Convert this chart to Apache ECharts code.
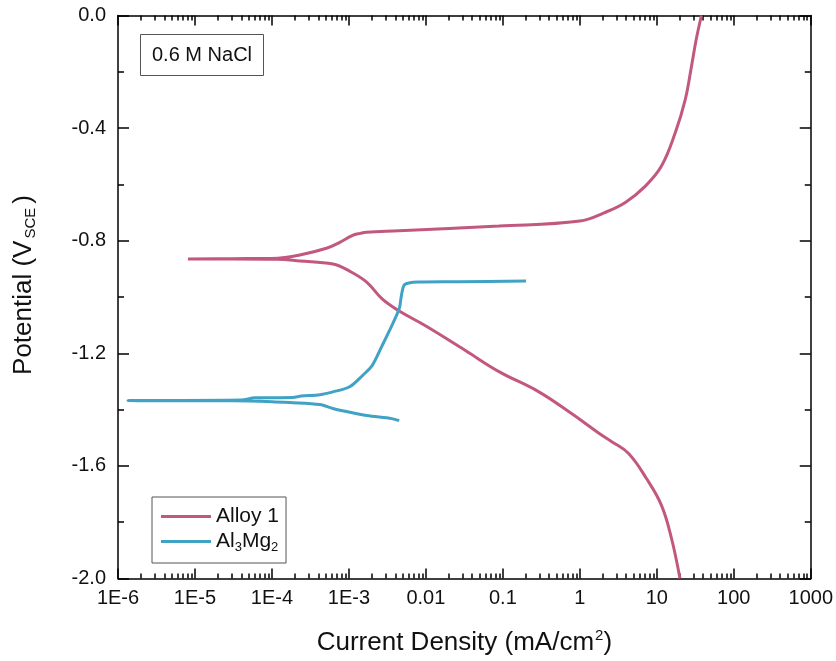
<!DOCTYPE html>
<html>
<head>
<meta charset="utf-8">
<script src="https://cdn.jsdelivr.net/npm/echarts@6/dist/echarts.min.js"></script>
<style>
  html, body { margin: 0; padding: 0; background: #fff; }
  #chart { width: 836px; height: 661px; }
</style>
</head>
<body>
<div id="chart"></div>
<script>
// Alloy 1: cathodic branch (from -2.0 V up to Ecorr), then anodic branch
const alloyCurrent = [20, 15.5, 11.5, 7.3, 4.3, 2.57, 1.75, 0.78, 0.29, 0.089, 0.033, 0.01, 0.0045, 0.0027, 0.0017,
  0.00102, 0.00062, 0.00023, 0.000115, 0.00003, 0.0000081,
  0.00003, 0.00012, 0.00023, 0.00051, 0.00076, 0.0011, 0.0014, 0.0017, 0.0045, 0.089, 1, 2.1, 3.9, 7.1, 11.5, 17.4, 23.4, 28.2, 32.4, 38];
const alloyPotential = [-2.0, -1.857, -1.740, -1.644, -1.556, -1.513, -1.483, -1.414, -1.336, -1.265, -1.191, -1.103, -1.05, -1.007, -0.947,
  -0.908, -0.883, -0.872, -0.866, -0.865, -0.865,
  -0.864, -0.862, -0.851, -0.827, -0.806, -0.782, -0.774, -0.770, -0.765, -0.748, -0.730, -0.700, -0.664, -0.606, -0.535, -0.416, -0.299, -0.181, -0.087, 0.0];

// Al3Mg2: cathodic branch, then anodic branch
const al3mg2Current = [0.0045, 0.0036, 0.0017, 0.00093, 0.00062, 0.00042, 0.00017, 0.0001, 0.00003, 0.00000135,
  0.00004, 0.00006, 0.000186, 0.00024, 0.00042, 0.00062, 0.00102, 0.0015, 0.002, 0.0027, 0.0033, 0.0045, 0.0048, 0.0052, 0.006, 0.008, 0.027, 0.2];
const al3mg2Potential = [-1.439, -1.432, -1.421, -1.407, -1.396, -1.382, -1.375, -1.372, -1.369, -1.368,
  -1.366, -1.358, -1.357, -1.352, -1.347, -1.337, -1.319, -1.279, -1.244, -1.173, -1.124, -1.042, -0.996, -0.958, -0.950, -0.947, -0.946, -0.943];

const xTickLabels = ['1E-6', '1E-5', '1E-4', '1E-3', '0.01', '0.1', '1', '10', '100', '1000'];

const FONT = 'Liberation Sans, Arial, sans-serif';

// minor ticks at 2..9 x 10^n, in log10 units for the overlay axis
const minorTicks = [];
for (let n = -6; n < 3; n++) {
  for (let k = 2; k <= 9; k++) minorTicks.push(n + Math.log10(k));
}

const zip = (xs, ys) => xs.map((x, i) => [x, ys[i]]);

const myChart = echarts.init(document.getElementById('chart'));

const tickLine = { color: '#000', width: 1.5 };

const option = {
  animation: false,
  backgroundColor: '#fff',
  textStyle: { fontFamily: FONT },
  title: {
    text: '0.6 M NaCl',
    left: 140,
    top: 34,
    padding: [11, 12, 11, 12],
    borderColor: '#555',
    borderWidth: 1,
    textStyle: { fontSize: 20, fontWeight: 'normal', color: '#111', fontFamily: FONT }
  },
  legend: {
    orient: 'vertical',
    left: 152,
    top: 497,
    padding: [9, 7, 9, 9],
    itemGap: 4,
    itemWidth: 50,
    itemHeight: 3,
    icon: 'rect',
    borderColor: '#555',
    borderWidth: 1,
    data: ['Alloy 1', 'Al3Mg2'],
    formatter: function (name) {
      return name === 'Al3Mg2' ? 'Al{sub|3}Mg{sub|2}' : name;
    },
    textStyle: {
      fontSize: 21,
      color: '#111',
      fontFamily: FONT,
      rich: {
        sub: { fontSize: 13, padding: [12, 0, 0, 0], fontFamily: FONT, color: '#111' }
      }
    }
  },
  grid: { left: 118, right: 23, top: 15.5, bottom: 81 },
  xAxis: [
    {
      type: 'log',
      logBase: 10,
      min: 1e-6,
      max: 1000,
      splitNumber: 9,
      position: 'bottom',
      name: 'Current Density (mA/cm{sup|2})',
      nameLocation: 'middle',
      nameGap: 50,
      nameTextStyle: {
        fontSize: 26,
        color: '#111',
        fontFamily: FONT,
        rich: { sup: { fontSize: 15, padding: [0, 0, 14, 1], fontFamily: FONT, color: '#111' } }
      },
      axisLine: { show: true, onZero: false, lineStyle: tickLine },
      axisTick: { show: true, inside: true, length: 10, lineStyle: tickLine },
      axisLabel: {
        fontSize: 20,
        color: '#111',
        margin: 10,
        fontFamily: FONT,
        formatter: function (v) {
          return xTickLabels[Math.round(Math.log10(v)) + 6];
        }
      },
      splitLine: { show: false }
    },
    {
      type: 'value',
      min: -6,
      max: 3,
      position: 'bottom',
      axisLine: { show: false, onZero: false },
      axisTick: { show: true, inside: true, length: 5, lineStyle: tickLine, customValues: minorTicks },
      axisLabel: { show: false },
      splitLine: { show: false }
    },
    {
      type: 'log',
      logBase: 10,
      min: 1e-6,
      max: 1000,
      splitNumber: 9,
      position: 'top',
      axisLine: { show: true, onZero: false, lineStyle: tickLine },
      axisTick: { show: true, inside: true, length: 10, lineStyle: tickLine },
      axisLabel: { show: false },
      splitLine: { show: false }
    },
    {
      type: 'value',
      min: -6,
      max: 3,
      position: 'top',
      axisLine: { show: false, onZero: false },
      axisTick: { show: true, inside: true, length: 5, lineStyle: tickLine, customValues: minorTicks },
      axisLabel: { show: false },
      splitLine: { show: false }
    }
  ],
  yAxis: [
    {
      type: 'value',
      min: -2,
      max: 0,
      interval: 0.4,
      position: 'left',
      name: 'Potential (V{sub|SCE})',
      nameLocation: 'middle',
      nameRotate: 90,
      nameGap: 80,
      nameTextStyle: {
        fontSize: 26,
        color: '#111',
        fontFamily: FONT,
        padding: [0, 0, 0, 24],
        rich: { sub: { fontSize: 15, padding: [13, 4, 0, 2], fontFamily: FONT, color: '#111' } }
      },
      axisLine: { show: true, onZero: false, lineStyle: tickLine },
      axisTick: { show: true, inside: true, length: 11, lineStyle: tickLine },
      minorTick: { show: true, splitNumber: 2, length: 6, lineStyle: tickLine },
      axisLabel: {
        fontSize: 20,
        color: '#111',
        margin: 12,
        fontFamily: FONT,
        formatter: function (v) { return v.toFixed(1); }
      },
      splitLine: { show: false }
    },
    {
      type: 'value',
      min: -2,
      max: 0,
      interval: 0.4,
      position: 'right',
      axisLine: { show: true, onZero: false, lineStyle: tickLine },
      axisTick: { show: true, inside: true, length: 11, lineStyle: tickLine },
      minorTick: { show: true, splitNumber: 2, length: 6, lineStyle: tickLine },
      axisLabel: { show: false },
      splitLine: { show: false }
    }
  ],
  series: [
    {
      name: 'Alloy 1',
      type: 'line',
      xAxisIndex: 0,
      yAxisIndex: 0,
      symbol: 'none',
      smooth: 0.4,
      color: '#C2587F',
      lineStyle: { width: 3, color: '#C2587F' },
      data: zip(alloyCurrent, alloyPotential)
    },
    {
      name: 'Al3Mg2',
      type: 'line',
      xAxisIndex: 0,
      yAxisIndex: 0,
      symbol: 'none',
      smooth: 0.3,
      color: '#40A2C4',
      lineStyle: { width: 3, color: '#40A2C4' },
      data: zip(al3mg2Current, al3mg2Potential)
    }
  ]
};

myChart.setOption(option);
</script>
</body>
</html>
